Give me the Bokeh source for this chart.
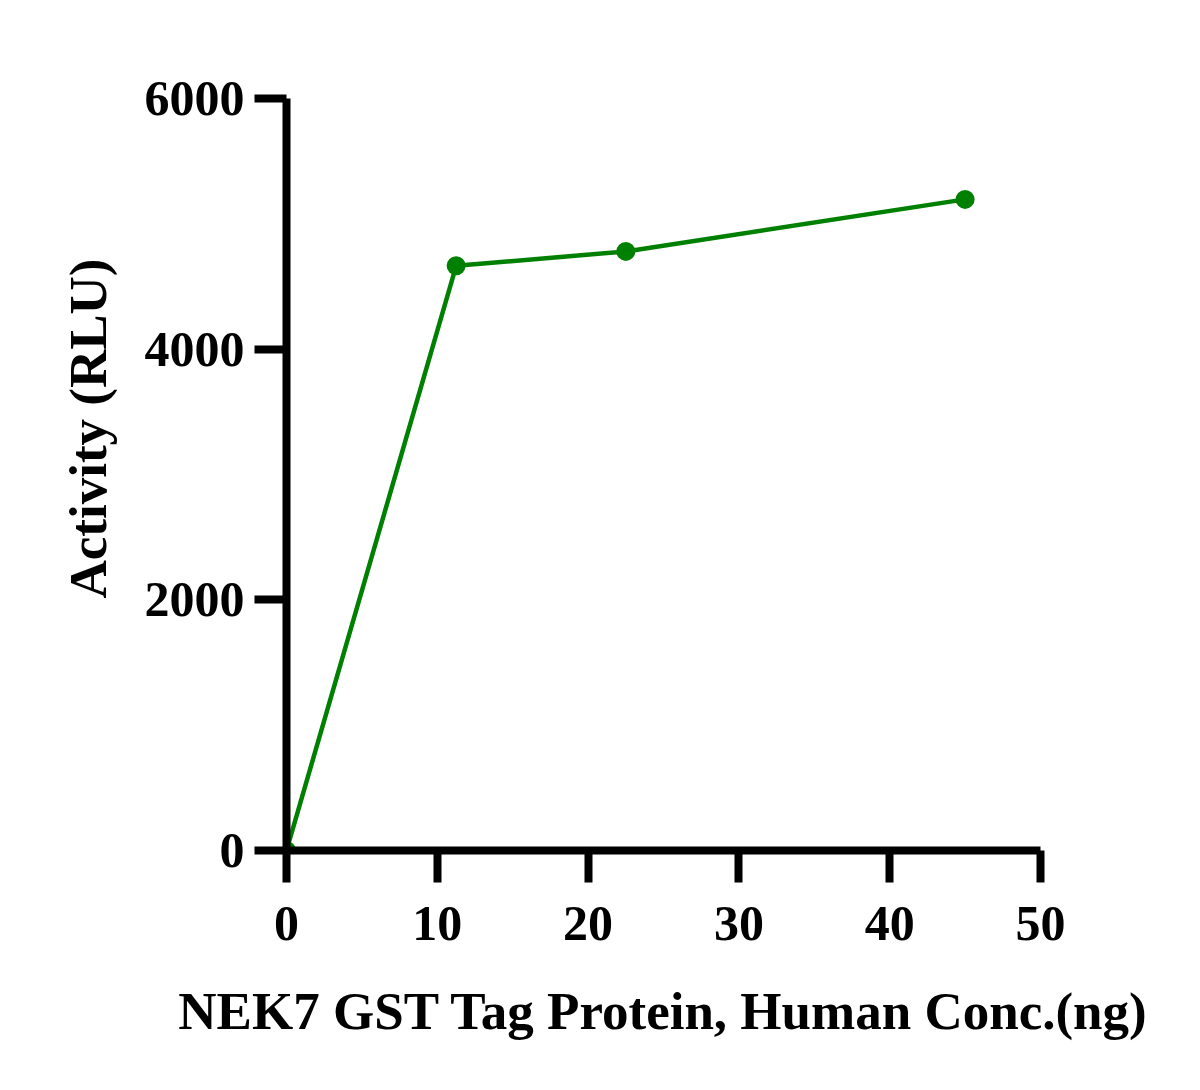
from bokeh.plotting import figure
from bokeh.models import Range1d, FixedTicker, Title
from bokeh.embed import file_html
from bokeh.resources import INLINE

# NEK7 GST Tag Protein activity curve
conc = [0, 11.25, 22.5, 45]
rlu = [0, 4665, 4780, 5195]
x_ticks = [0, 10, 20, 30, 40, 50]
y_ticks = [0, 2000, 4000, 6000]
x_title = "NEK7 GST Tag Protein, Human Conc.(ng)"
y_title = "Activity (RLU)"

FONT = "Liberation Serif"
GREEN = "#008000"

p = figure(frame_width=754, frame_height=752,
           x_range=Range1d(0, 50), y_range=Range1d(0, 6000),
           min_border_left=286, min_border_right=144,
           min_border_top=98, min_border_bottom=220,
           output_backend="svg", toolbar_location=None)
p.outline_line_color = None
p.xgrid.visible = False
p.ygrid.visible = False

for ax in (p.xaxis[0], p.yaxis[0]):
    ax.axis_line_width = 8
    ax.axis_line_color = "black"
    ax.major_tick_line_width = 8
    ax.major_tick_line_color = "black"
    ax.major_tick_in = 0
    ax.major_tick_out = 32
    ax.minor_tick_line_color = None
    ax.major_label_text_font = FONT
    ax.major_label_text_font_style = "bold"
    ax.major_label_text_font_size = "50px"
    ax.major_label_text_color = "black"
    ax.axis_label_text_font = FONT
    ax.axis_label_text_font_style = "bold"
    ax.axis_label_text_font_size = "53px"
    ax.axis_label_text_color = "black"

p.xaxis.ticker = FixedTicker(ticks=x_ticks)
p.yaxis.ticker = FixedTicker(ticks=y_ticks)
p.xaxis.axis_label = x_title
p.xaxis.major_label_standoff = 24
p.xaxis.axis_label_standoff = 39
p.yaxis.major_label_standoff = 10

# y title sits a bit above the axis centre, so it is a side title
ytitle = Title(text=y_title, align="left", offset=252, standoff=50,
               text_font=FONT, text_font_style="bold", text_font_size="53px",
               text_color="black")
p.add_layout(ytitle, "left")

p.line(conc, rlu, line_color=GREEN, line_width=4.5)
p.scatter(conc, rlu, size=19, fill_color=GREEN, line_color=None)

open("out.html", "w").write(file_html(p, INLINE))
